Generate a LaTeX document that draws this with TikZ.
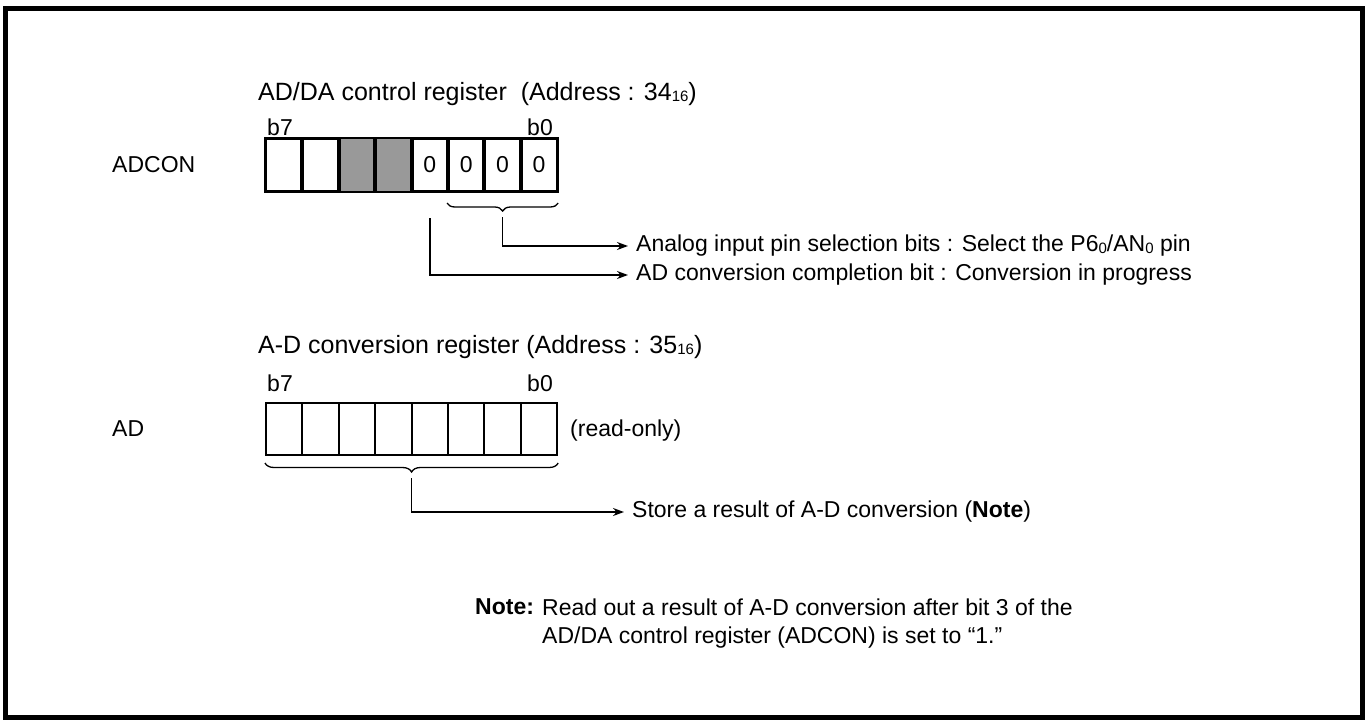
\documentclass[tikz,border=0pt]{standalone}
\usepackage{fontspec}
\setmainfont{Liberation Sans}
\usetikzlibrary{decorations.pathreplacing,arrows.meta}
\definecolor{cellgray}{HTML}{999999}
\newcommand{\sub}[1]{\raisebox{-1.5pt}{\fontsize{15}{15}\selectfont #1}}
\begin{document}
\begin{tikzpicture}[x=1pt,y=-1pt,
  every node/.style={font=\fontsize{23}{27}\selectfont},
  lbl/.style={anchor=west,inner sep=0pt},
  ttl/.style={anchor=west,inner sep=0pt,font=\fontsize{25}{29}\selectfont},
  cellbox/.style={draw,line width=2pt,minimum width=36.4pt,minimum height=52pt,inner sep=0pt,anchor=west},
  conn/.style={line width=1.5pt,-{Stealth[length=11pt,width=8pt]}},
  brc/.style={line width=1.3pt,decorate,decoration={brace,mirror,amplitude=8pt}},
  txt/.style={anchor=west,inner xsep=8pt,inner ysep=0pt}]
\useasboundingbox (0,0) rectangle (1370,720);
\draw[line width=5pt] (5,8) rectangle (1362,717);

% ---- ADCON ----
\node[ttl] (t1) at (258,94) {AD/DA control register\ \ (Address : 34\sub{16})};
\node[lbl] (adcon) at (112,165) {ADCON};
\node (b7a) at (280,127) {b7};
\node (b0a) at (540,127) {b0};
\foreach \i in {1,...,8} {
  \node[cellbox] (a\i) at ({265+36.4*(\i-1)},165) {};
}
\fill[cellgray] ([xshift=1pt,yshift=-1pt]a3.north west) rectangle ([xshift=-1pt,yshift=1pt]a4.south east);
\foreach \i in {1,...,8} { \draw[line width=2pt] (a\i.north west) rectangle (a\i.south east); }
\foreach \i in {5,...,8} { \node at (a\i.center) {0}; }

\path (a6.south west) ++(0,11) coordinate (bl1) (a8.south east) ++(0,11) coordinate (br1);
\draw[brc] (bl1) -- (br1) coordinate[pos=0.5] (bm1);
\coordinate (tip1) at ([yshift=-14pt]bm1);
\coordinate (top5) at ([yshift=-26pt]a5.south);

\node[txt] (d1) at (628,246) {Analog input pin selection bits : Select the P6\sub{0}/AN\sub{0} pin};
\node[txt] (d2) at (628,275) {AD conversion completion bit : Conversion in progress};
\draw[conn] (tip1) |- (d1.west);
\draw[conn] (top5) |- (d2.west);

% ---- AD ----
\node[ttl] (t2) at (258,347) {A-D conversion register (Address : 35\sub{16})};
\node[lbl] (ad) at (112,429) {AD};
\node (b7b) at (280,383) {b7};
\node (b0b) at (540,383) {b0};
\foreach \i in {1,...,8} {
  \node[cellbox] (c\i) at ({265+36.4*(\i-1)},429) {};
}
\node[lbl] (ro) at (570,431) {(read-only)};
\path (c1.south west) ++(0,7) coordinate (bl2) (c8.south east) ++(0,7) coordinate (br2);
\draw[brc,decoration={brace,mirror,amplitude=9pt}] (bl2) -- (br2) coordinate[pos=0.5] (bm2);
\coordinate (tip2) at ([yshift=-15pt]bm2);
\node[txt] (d3) at (624,512) {Store a result of A-D conversion (\textbf{Note})};
\draw[conn] (tip2) |- (d3.west);

% ---- Note ----
\node[anchor=west,inner sep=0pt] (nt) at (475,607) {\textbf{Note:}};
\node[anchor=west,inner sep=0pt] (n1) at (542,607) {Read out a result of A-D conversion after bit 3 of the};
\node[anchor=west,inner sep=0pt] (n2) at (542,638) {AD/DA control register (ADCON) is set to “1.”};
\end{tikzpicture}
\end{document}
